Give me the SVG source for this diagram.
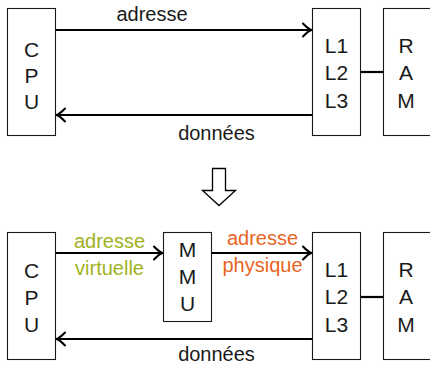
<svg xmlns="http://www.w3.org/2000/svg" width="430" height="365" viewBox="0 0 430 365">
  <style>
    .box { fill: #ffffff; stroke: #1a1a1a; stroke-width: 1.1; }
    .lbl { font-family: "Liberation Sans", Arial, sans-serif; font-size: 20px; fill: #1a1a1a; text-anchor: middle; }
    .cap { font-size: 21px; }
    .wire { stroke: #000000; stroke-width: 2.2; fill: none; }
    .virt { fill: #9fb21c; }
    .phys { fill: #e8641e; }
  </style>
  <defs>
    <marker id="tip" markerUnits="userSpaceOnUse" markerWidth="14" markerHeight="16" viewBox="-10 -8 12 16" refX="0" refY="0" orient="auto">
      <path d="M -8,-6.5 Q -3,-1.2 0.5,0 Q -3,1.2 -8,6.5" fill="none" stroke="#000000" stroke-width="2" stroke-linecap="round" stroke-linejoin="round"/>
    </marker>
  </defs>

  <!-- upper system: direct physical addressing -->
  <g id="cpu-top">
    <rect class="box" x="7.5" y="8.5" width="48" height="127"/>
    <text class="lbl cap" x="31.5" y="57">C</text>
    <text class="lbl cap" x="31.5" y="83">P</text>
    <text class="lbl cap" x="31.5" y="109">U</text>
  </g>
  <g id="cache-top">
    <rect class="box" x="312.5" y="8.5" width="48" height="127"/>
    <text class="lbl cap" x="336.5" y="53">L1</text>
    <text class="lbl cap" x="336.5" y="80">L2</text>
    <text class="lbl cap" x="336.5" y="108">L3</text>
  </g>
  <g id="ram-top">
    <rect class="box" x="383.5" y="8.5" width="49" height="127"/>
    <text class="lbl cap" x="406" y="53">R</text>
    <text class="lbl cap" x="406" y="80">A</text>
    <text class="lbl cap" x="406" y="108">M</text>
  </g>

  <!-- lower system: addresses translated by the MMU -->
  <g id="cpu-bottom">
    <rect class="box" x="7.5" y="232.5" width="48" height="127"/>
    <text class="lbl cap" x="31.5" y="278">C</text>
    <text class="lbl cap" x="31.5" y="305">P</text>
    <text class="lbl cap" x="31.5" y="332">U</text>
  </g>
  <g id="mmu">
    <rect class="box" x="163.5" y="232.5" width="48" height="89"/>
    <text class="lbl cap" x="187.5" y="257">M</text>
    <text class="lbl cap" x="187.5" y="284">M</text>
    <text class="lbl cap" x="187.5" y="311">U</text>
  </g>
  <g id="cache-bottom">
    <rect class="box" x="312.5" y="232.5" width="48" height="127"/>
    <text class="lbl cap" x="336.5" y="277">L1</text>
    <text class="lbl cap" x="336.5" y="304">L2</text>
    <text class="lbl cap" x="336.5" y="332">L3</text>
  </g>
  <g id="ram-bottom">
    <rect class="box" x="383.5" y="232.5" width="49" height="127"/>
    <text class="lbl cap" x="406" y="277">R</text>
    <text class="lbl cap" x="406" y="304">A</text>
    <text class="lbl cap" x="406" y="332">M</text>
  </g>

  <!-- transition arrow between the two systems -->
  <g id="transition">
    <path d="M 212.5,168.5 H 225.5 V 190.5 H 235.5 L 219,205.5 L 202.5,190.5 H 212.5 Z" fill="#ffffff" stroke="#000000" stroke-width="1.3" stroke-linejoin="miter"/>
  </g>

  <g id="connectors">
    <line class="wire" x1="56" y1="30" x2="311" y2="30" marker-end="url(#tip)"/>
    <line class="wire" x1="312" y1="115" x2="57" y2="115" marker-end="url(#tip)"/>
    <line class="wire" x1="361" y1="72" x2="383" y2="72"/>

    <line class="wire" x1="56" y1="253" x2="162" y2="253" marker-end="url(#tip)"/>
    <line class="wire" x1="212" y1="253" x2="311" y2="253" marker-end="url(#tip)"/>
    <line class="wire" x1="312" y1="339" x2="57" y2="339" marker-end="url(#tip)"/>
    <line class="wire" x1="361" y1="297" x2="383" y2="297"/>
  </g>

  <g id="labels">
    <text class="lbl" x="152" y="21">adresse</text>
    <text class="lbl" x="216.5" y="140">données</text>
    <text class="lbl virt" x="109.5" y="248">adresse</text>
    <text class="lbl virt" x="109.5" y="275">virtuelle</text>
    <text class="lbl phys" x="262.5" y="245">adresse</text>
    <text class="lbl phys" x="262.5" y="272">physique</text>
    <text class="lbl" x="216.5" y="361">données</text>
  </g>
</svg>
